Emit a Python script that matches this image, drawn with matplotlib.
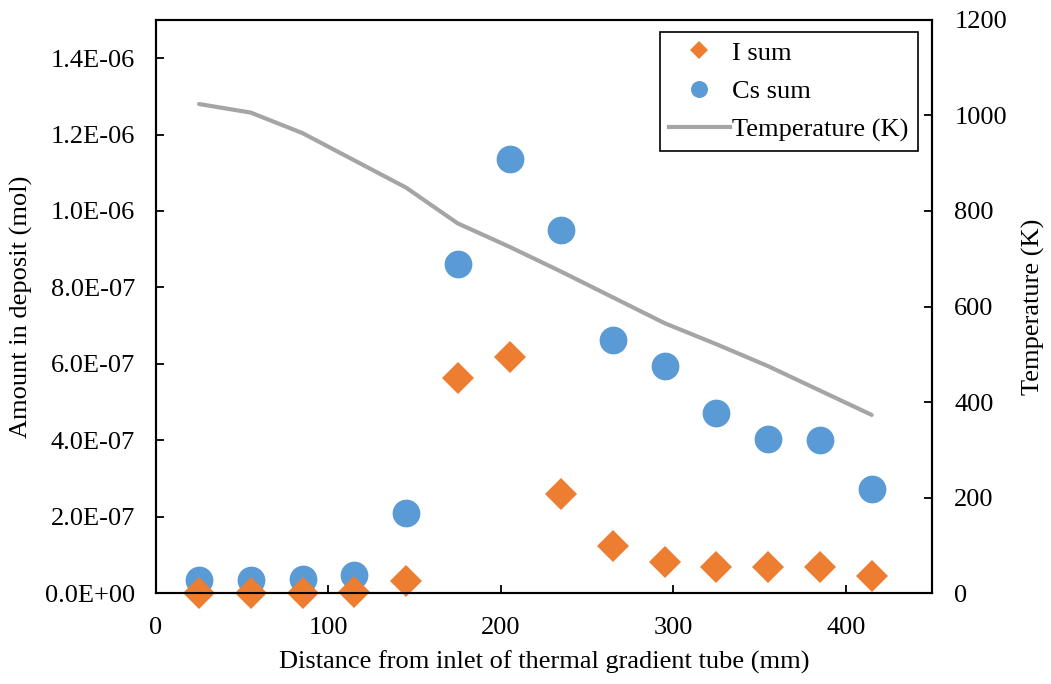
import matplotlib
matplotlib.use("Agg")
import matplotlib.pyplot as plt
from matplotlib.lines import Line2D
from matplotlib.ticker import FuncFormatter, MultipleLocator

plt.rcParams['font.family'] = ['Liberation Serif', 'DejaVu Serif']

distance_mm = [25, 55, 85, 115, 145, 175, 205, 235, 265, 295, 325, 355, 385, 415]
i_sum = [0.0, 0.0, 0.0, 3e-9, 3.1e-8, 5.63e-7, 6.18e-7, 2.6e-7, 1.24e-7, 8.1e-8, 6.8e-8, 6.8e-8, 6.8e-8, 4.4e-8]
cs_sum = [3.4e-8, 3.4e-8, 3.6e-8, 4.6e-8, 2.09e-7, 8.6e-7, 1.135e-6, 9.49e-7, 6.62e-7, 5.93e-7, 4.71e-7, 4.02e-7, 4.01e-7, 2.72e-7]
temperature_K = [1024, 1006, 963, 906, 849, 774, 725, 673, 619, 565, 521, 475, 424, 373]

orange = '#ED7D31'
blue = '#5B9BD5'
gray = '#A5A5A5'
fs = 19

fig = plt.figure(figsize=(10.51, 6.84), dpi=100)
ax = fig.add_axes([0.1484, 0.1330, 0.7384, 0.8378])
ax2 = ax.twinx()

ax.plot(distance_mm, cs_sum, linestyle='none', marker='o', markersize=20,
        color=blue, markeredgewidth=0, clip_on=False, zorder=3)
ax.plot(distance_mm, i_sum, linestyle='none', marker='D', markersize=16.2,
        color=orange, markeredgewidth=0, clip_on=False, zorder=4)
ax2.plot(distance_mm, temperature_K, color=gray, linewidth=3.0, solid_capstyle='round', zorder=2)

ax.set_xlim(0, 450)
ax.set_ylim(0, 1.5e-6)
ax2.set_ylim(0, 1200)
ax.xaxis.set_major_locator(MultipleLocator(100))
ax.set_yticks([i * 2e-7 for i in range(8)])
ax2.yaxis.set_major_locator(MultipleLocator(200))

def sci(v, pos):
    return f"{v:.1E}"
ax.yaxis.set_major_formatter(FuncFormatter(sci))

for a in (ax, ax2):
    a.tick_params(direction='in', length=6, width=1.3, labelsize=fs, colors='black')
    for sp in a.spines.values():
        sp.set_linewidth(1.5)
        sp.set_color('black')
ax.tick_params(axis='x', pad=17)
ax.tick_params(axis='y', pad=15)
ax2.tick_params(axis='y', pad=16)

ax.set_xlabel('Distance from inlet of thermal gradient tube (mm)', fontsize=fs)
ax.set_ylabel('Amount in deposit (mol)', fontsize=fs)
ax2.set_ylabel('Temperature (K)', fontsize=fs)
ax.xaxis.set_label_coords(0.5, -0.1)
ax.yaxis.set_label_coords(-0.158, 0.5)
ax2.yaxis.set_label_coords(1.116, 0.5)

handles = [
    Line2D([], [], linestyle='none', marker='D', markersize=8.7, color=orange, markeredgewidth=0),
    Line2D([], [], linestyle='none', marker='o', markersize=12.2, color=blue, markeredgewidth=0),
    Line2D([], [], color=gray, linewidth=3.0),
]
labels = ['I sum', 'Cs sum', 'Temperature (K)']
leg = ax2.legend(handles, labels, loc='upper right', bbox_to_anchor=(0.982, 0.979),
                 fontsize=fs, frameon=True, fancybox=False, edgecolor='black',
                 framealpha=1, handlelength=2.3, handletextpad=0.1, borderpad=0.35,
                 labelspacing=0.56, borderaxespad=0)
leg.get_frame().set_linewidth(1.2)

fig.savefig('out.png', dpi=100)
